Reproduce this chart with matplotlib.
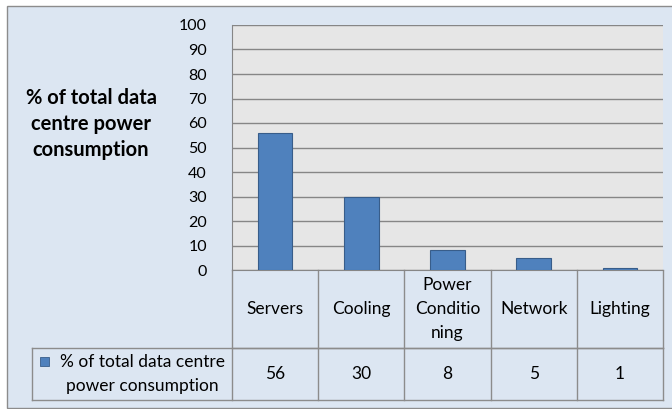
import matplotlib
matplotlib.use("Agg")
import matplotlib.pyplot as plt
from matplotlib.patches import Rectangle
import numpy as np

plt.rcParams['font.family'] = ['Lato', 'DejaVu Sans']

categories = ['Servers', 'Cooling', 'Power\nConditio\nning', 'Network', 'Lighting']
values = [56, 30, 8, 5, 1]
value_labels = ['56', '30', '8', '5', '1']
series_name = '% of total data centre\npower consumption'
y_title = '% of total data\ncentre power\nconsumption'

W, H = 672, 409
fig = plt.figure(figsize=(W / 100, H / 100), dpi=100)
fig.patch.set_facecolor('white')

# chart area background
bg = Rectangle((7 / W, 1 - 408 / H), 1, (408 - 6) / H,
               transform=fig.transFigure, facecolor='#DCE6F2',
               edgecolor='#8C8C8C', lw=1, zorder=-5)
fig.patches.append(bg)

left, right, top, bottom = 232, 663, 25, 270
ax = fig.add_axes([left / W, 1 - bottom / H, (right - left) / W, (bottom - top) / H])
ax.set_facecolor('#E6E6E6')

x = np.arange(len(values))
ax.bar(x, values, width=0.4, color='#4F81BD', edgecolor='#385D8A', lw=0.8, zorder=3)
ax.set_xlim(-0.5, len(values) - 0.5)
ax.set_ylim(0, 100)
ax.set_yticks(np.arange(0, 101, 10))
ax.yaxis.grid(True, color='#868686', lw=1, zorder=0)
ax.set_axisbelow(True)
ax.tick_params(axis='y', length=0, pad=18, labelsize=11.5, colors='black')
ax.set_xticks([])
for s in ['top', 'right']:
    ax.spines[s].set_visible(False)
ax.spines['left'].set_color('#868686')
ax.spines['bottom'].set_color('#868686')

# data table below the plot
ph = bottom - top
row1 = -(347.5 - bottom) / ph
row2 = -(400 - bottom) / ph
tleft = (32 - left) / (right - left)
lc = '#8C8C8C'
tr = ax.transAxes
kw = dict(transform=tr, color=lc, lw=1, clip_on=False)
ax.plot([0, 1], [row1, row1], **kw)
ax.plot([tleft, 1], [row2, row2], **kw)
ax.plot([tleft, 1], [row1, row1], **kw)
ax.plot([tleft, tleft], [row1, row2], **kw)
for i in range(len(values) + 1):
    xf = i / len(values)
    ax.plot([xf, xf], [0, row2], **kw)
for i, (c, v) in enumerate(zip(categories, value_labels)):
    xf = (i + 0.5) / len(values)
    ax.text(xf, row1 / 2, c, transform=tr, ha='center', va='center',
            fontsize=12.5, linespacing=1.62)
    ax.text(xf, (row1 + row2) / 2, v, transform=tr, ha='center', va='center',
            fontsize=12.5)

# legend key and series name
kx = (40 - left) / (right - left)
ax.add_patch(Rectangle((kx, -(366 - bottom) / ph), 9 / (right - left), 9 / ph,
                       transform=tr, facecolor='#4F81BD', edgecolor='#385D8A',
                       lw=0.6, clip_on=False))
ax.text((142 - left) / (right - left), (row1 + row2) / 2, series_name,
        transform=tr, ha='center', va='center', fontsize=12.5, linespacing=1.6)

fig.text(91 / W, 1 - 124 / H, y_title, ha='center', va='center',
         fontsize=14.5, fontweight='bold', linespacing=1.38)

fig.savefig('out.png', dpi=100)
